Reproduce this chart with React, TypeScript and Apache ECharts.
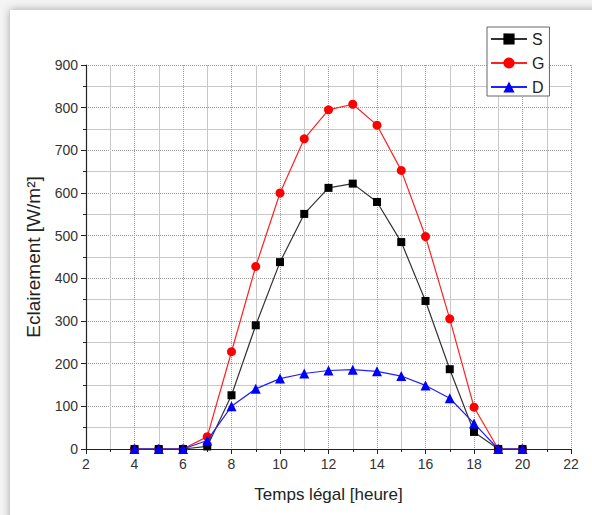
import React, { useEffect, useRef } from "react";
import * as echarts from "echarts";

const hours = [4, 5, 6, 7, 8, 9, 10, 11, 12, 13, 14, 15, 16, 17, 18, 19, 20];
const sValues = [0, 0, 0, 6, 126, 290, 438, 551, 612, 622, 579, 485, 347, 187, 40, 0, 0];
const gValues = [0, 0, 0, 29, 228, 428, 600, 727, 795, 808, 759, 653, 498, 305, 98, 0, 0];
const dValues = [0, 0, 0, 20, 100, 141, 165, 177, 184, 186, 182, 171, 149, 119, 60, 0, 0];

const FONT = "Liberation Sans, Arial, sans-serif";

export default function App() {
  const ref = useRef<HTMLDivElement>(null);
  useEffect(() => {
    if (!ref.current) return;
    const chart = echarts.init(ref.current, undefined, { renderer: "svg" });
    const mk = (vals: number[]) => hours.map((h, i) => [h, vals[i]]);
    chart.setOption({
      animation: false,
      backgroundColor: "#f4f4f4",
      textStyle: { fontFamily: FONT },
      graphic: [
        {
          type: "rect",
          z: -10,
          shape: { x: 10, y: 10, width: 640, height: 600 },
          style: { fill: "#ffffff", shadowBlur: 8, shadowColor: "rgba(0,0,0,0.35)", shadowOffsetX: 0, shadowOffsetY: 0 },
        },
      ],
      grid: { left: 86, top: 65, right: 21, bottom: 66, containLabel: false },
      legend: {
        orient: "vertical",
        left: 487,
        top: 27,
        padding: [4, 5, 1, 3],
        itemWidth: 36,
        itemHeight: 14,
        itemGap: 8,
        borderColor: "#666",
        borderWidth: 1,
        backgroundColor: "#fff",
        textStyle: { fontSize: 16, color: "#222", fontFamily: FONT },
        data: ["S", "G", "D"],
      },
      xAxis: {
        type: "value",
        min: 2,
        max: 22,
        interval: 2,
        name: "Temps légal [heure]",
        nameLocation: "middle",
        nameGap: 37,
        nameTextStyle: { fontSize: 17, color: "#222", fontFamily: FONT },
        axisLine: { show: true, onZero: false, lineStyle: { color: "#222", width: 1.2 } },
        axisTick: { show: true, length: 5, lineStyle: { color: "#222" } },
        minorTick: { show: true, splitNumber: 2, length: 3, lineStyle: { color: "#222" } },
        axisLabel: { fontSize: 14, color: "#333", margin: 8, fontFamily: FONT },
        splitLine: { show: true, lineStyle: { color: "#999", type: "dotted", width: 1 } },
        minorSplitLine: { show: true, lineStyle: { color: "#c8c8c8", width: 1 } },
      },
      yAxis: {
        type: "value",
        min: 0,
        max: 900,
        interval: 100,
        name: "Eclairement [W/m²]",
        nameLocation: "middle",
        nameGap: 43,
        nameTextStyle: { fontSize: 19, color: "#222", fontFamily: FONT },
        axisLine: { show: true, lineStyle: { color: "#222", width: 1.2 } },
        axisTick: { show: true, length: 5, lineStyle: { color: "#222" } },
        minorTick: { show: true, splitNumber: 2, length: 3, lineStyle: { color: "#222" } },
        axisLabel: { fontSize: 14, color: "#333", margin: 8, fontFamily: FONT },
        splitLine: { show: true, lineStyle: { color: "#999", type: "dotted", width: 1 } },
        minorSplitLine: { show: true, lineStyle: { color: "#c8c8c8", width: 1 } },
      },
      series: [
        {
          name: "S",
          type: "line",
          data: mk(sValues),
          symbol: "rect",
          symbolSize: 8,
          itemStyle: { color: "#000" },
          lineStyle: { color: "#333", width: 1.2 },
          z: 3,
        },
        {
          name: "G",
          type: "line",
          data: mk(gValues),
          symbol: "circle",
          symbolSize: 9,
          itemStyle: { color: "#ff0000" },
          lineStyle: { color: "#ff2020", width: 1.2 },
          z: 2,
        },
        {
          name: "D",
          type: "line",
          data: mk(dValues),
          symbol: "triangle",
          symbolSize: 10,
          itemStyle: { color: "#0000ff" },
          lineStyle: { color: "#2020ff", width: 1.2 },
          z: 4,
        },
      ],
    });
    return () => chart.dispose();
  }, []);
  return <div ref={ref} style={{ width: 592, height: 515, position: "absolute", left: 0, top: 0 }} />;
}
